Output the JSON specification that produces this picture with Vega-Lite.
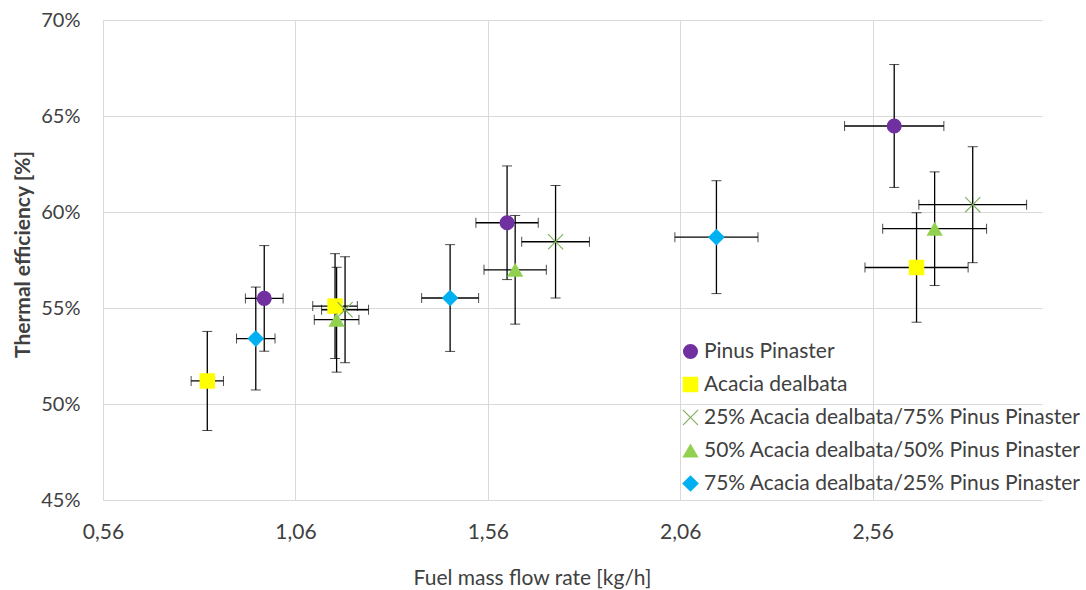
{
  "$schema": "https://vega.github.io/schema/vega-lite/v6.json",
  "width": 939,
  "height": 480,
  "autosize": {"type": "none"},
  "padding": {"left": 103, "top": 20, "right": 44, "bottom": 90},
  "background": "white",
  "config": {
    "view": {"stroke": null},
    "font": "Lato",
    "axis": {
      "grid": true,
      "gridColor": "#d9d9d9",
      "gridWidth": 1,
      "domain": false,
      "ticks": false,
      "labelFont": "Lato",
      "labelColor": "#404040",
      "titleFont": "Lato",
      "titleFontSize": 21,
      "titleColor": "#404040"
    }
  },
  "data": {
    "values": [
      {"series": "Pinus Pinaster", "flow": 0.979, "eff": 55.50, "ex": 0.049, "ey": 2.75},
      {"series": "Pinus Pinaster", "flow": 1.610, "eff": 59.44, "ex": 0.081, "ey": 2.96},
      {"series": "Pinus Pinaster", "flow": 2.616, "eff": 64.48, "ex": 0.129, "ey": 3.20},
      {"series": "Acacia dealbata", "flow": 0.831, "eff": 51.20, "ex": 0.042, "ey": 2.58},
      {"series": "Acacia dealbata", "flow": 1.163, "eff": 55.10, "ex": 0.058, "ey": 2.73},
      {"series": "Acacia dealbata", "flow": 2.674, "eff": 57.11, "ex": 0.134, "ey": 2.85},
      {"series": "25% Acacia dealbata/75% Pinus Pinaster", "flow": 1.189, "eff": 54.91, "ex": 0.061, "ey": 2.76},
      {"series": "25% Acacia dealbata/75% Pinus Pinaster", "flow": 1.736, "eff": 58.45, "ex": 0.088, "ey": 2.93},
      {"series": "25% Acacia dealbata/75% Pinus Pinaster", "flow": 2.820, "eff": 60.38, "ex": 0.140, "ey": 3.02},
      {"series": "50% Acacia dealbata/50% Pinus Pinaster", "flow": 1.167, "eff": 54.39, "ex": 0.058, "ey": 2.73},
      {"series": "50% Acacia dealbata/50% Pinus Pinaster", "flow": 1.631, "eff": 56.99, "ex": 0.081, "ey": 2.83},
      {"series": "50% Acacia dealbata/50% Pinus Pinaster", "flow": 2.721, "eff": 59.13, "ex": 0.135, "ey": 2.96},
      {"series": "75% Acacia dealbata/25% Pinus Pinaster", "flow": 0.957, "eff": 53.41, "ex": 0.050, "ey": 2.68},
      {"series": "75% Acacia dealbata/25% Pinus Pinaster", "flow": 1.462, "eff": 55.52, "ex": 0.074, "ey": 2.78},
      {"series": "75% Acacia dealbata/25% Pinus Pinaster", "flow": 2.154, "eff": 58.69, "ex": 0.108, "ey": 2.94}
    ]
  },
  "encoding": {
    "x": {
      "field": "flow",
      "type": "quantitative",
      "scale": {"domain": [0.56, 3.0], "nice": false, "zero": false},
      "axis": {
        "values": [0.56, 1.06, 1.56, 2.06, 2.56],
        "labelExpr": "replace(format(datum.value, '.2f'), '.', ',')",
        "labelFlush": false,
        "labelFontSize": 21,
        "labelBaseline": "alphabetic",
        "labelPadding": 38,
        "title": "Fuel mass flow rate [kg/h]",
        "titleX": 429,
        "titleY": 84,
        "titleBaseline": "alphabetic",
        "titleFontWeight": "normal"
      }
    },
    "y": {
      "field": "eff",
      "type": "quantitative",
      "scale": {"domain": [45, 70], "nice": false, "zero": false},
      "axis": {
        "values": [45, 50, 55, 60, 65, 70],
        "labelExpr": "datum.value + '%'",
        "labelFontSize": 20,
        "labelPadding": 23,
        "title": "Thermal efficiency [%]",
        "titleX": -80,
        "titleY": 234,
        "titleBaseline": "middle",
        "titleFontWeight": "bold"
      }
    }
  },
  "layer": [
    {
      "mark": {
        "type": "errorbar",
        "ticks": {"size": 10, "color": "#000000", "strokeWidth": 1.3},
        "rule": {"color": "#000000", "strokeWidth": 1.3}
      },
      "encoding": {"yError": {"field": "ey"}}
    },
    {
      "mark": {
        "type": "errorbar",
        "ticks": {"size": 10, "color": "#000000", "strokeWidth": 1.3},
        "rule": {"color": "#000000", "strokeWidth": 1.3}
      },
      "encoding": {"xError": {"field": "ex"}}
    },
    {
      "mark": {"type": "point", "filled": true, "opacity": 1},
      "encoding": {
        "color": {
          "field": "series",
          "type": "nominal",
          "scale": {
            "domain": ["Pinus Pinaster", "Acacia dealbata", "25% Acacia dealbata/75% Pinus Pinaster", "50% Acacia dealbata/50% Pinus Pinaster", "75% Acacia dealbata/25% Pinus Pinaster"],
            "range": ["#7030A0", "#FFFF00", "#7FAF5A", "#92D050", "#00B0F0"]
          },
          "legend": {
            "orient": "none", "legendX": 577, "legendY": 321, "title": null,
            "labelFont": "Lato", "labelFontSize": 21, "labelColor": "#404040", "labelLimit": 600,
            "symbolSize": 160, "rowPadding": 11, "labelOffset": 3, "padding": 0
          }
        },
        "shape": {
          "field": "series",
          "type": "nominal",
          "scale": {
            "domain": ["Pinus Pinaster", "Acacia dealbata", "25% Acacia dealbata/75% Pinus Pinaster", "50% Acacia dealbata/50% Pinus Pinaster", "75% Acacia dealbata/25% Pinus Pinaster"],
            "range": ["circle", "square", "M0,-0.1L0.9,-1L1,-0.9L0.1,0L1,0.9L0.9,1L0,0.1L-0.9,1L-1,0.9L-0.1,0L-1,-0.9L-0.9,-1Z", "triangle-up", "diamond"]
          },
          "legend": {
            "orient": "none", "legendX": 577, "legendY": 321, "title": null,
            "labelFont": "Lato", "labelFontSize": 21, "labelColor": "#404040", "labelLimit": 600,
            "symbolSize": 160, "rowPadding": 11, "labelOffset": 3, "padding": 0
          }
        },
        "size": {
          "field": "series",
          "type": "nominal",
          "scale": {
            "domain": ["Pinus Pinaster", "Acacia dealbata", "25% Acacia dealbata/75% Pinus Pinaster", "50% Acacia dealbata/50% Pinus Pinaster", "75% Acacia dealbata/25% Pinus Pinaster"],
            "range": [227, 279, 290, 250, 196]
          },
          "legend": null
        }
      }
    }
  ]
}
